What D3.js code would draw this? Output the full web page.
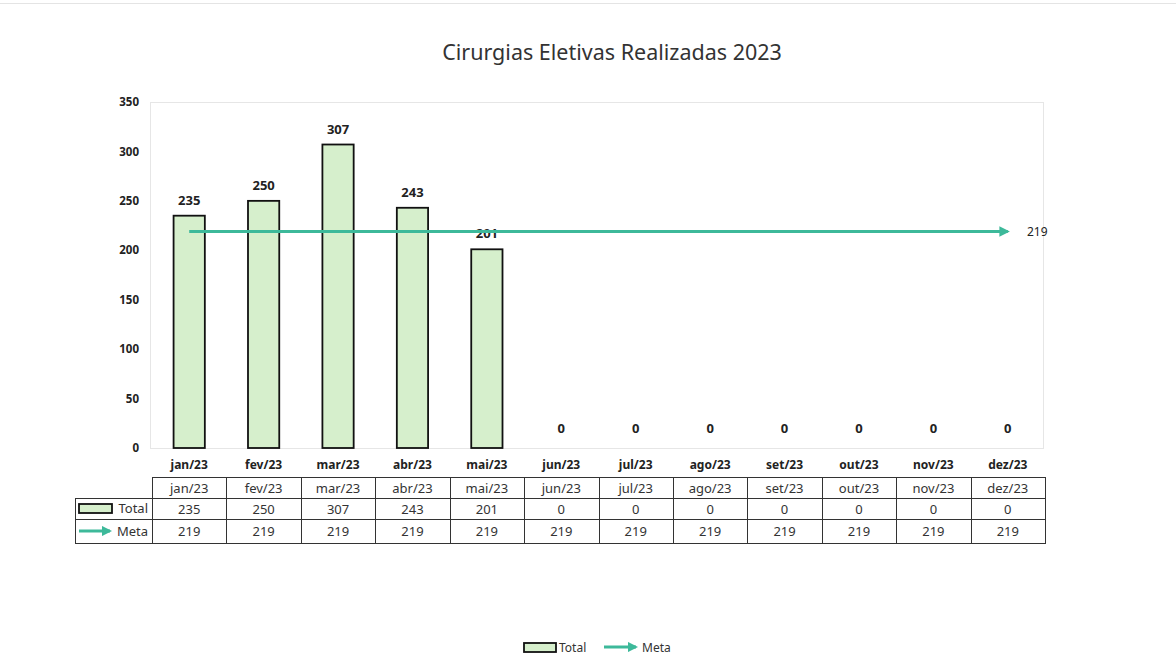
<!DOCTYPE html>
<html>
  <head>
    <title>Cirurgias Eletivas</title>
    <script src="https://d3js.org/d3.v7.min.js"></script>
    <style>
      body { margin: 0; background: white; }
      text { font-family: "Noto Sans", sans-serif; fill: #222; }
      .bold { font-weight: bold; }
    </style>
  </head>
  <body>
    <script>
      let width = 1176, height = 669;

      let months = ["jan/23", "fev/23", "mar/23", "abr/23", "mai/23", "jun/23",
                    "jul/23", "ago/23", "set/23", "out/23", "nov/23", "dez/23"];
      let totals = [235, 250, 307, 243, 201, 0, 0, 0, 0, 0, 0, 0];
      let meta = [219, 219, 219, 219, 219, 219, 219, 219, 219, 219, 219, 219];
      let yTicks = [0, 50, 100, 150, 200, 250, 300, 350];

      let barFill = "#d6efcc", metaColor = "#3db99a";

      let svg = d3.select("body").append("svg")
                  .attr("width", width)
                  .attr("height", height)

      // faint frame line at the top
      svg.append("line").attr("x1", 0).attr("x2", width).attr("y1", 3.5).attr("y2", 3.5)
         .attr("stroke", "#e4e4e4")

      let x = d3.scaleBand().domain(months).range([152, 1045]).paddingInner(0.58).paddingOuter(0.29)
      let y = d3.scaleLinear().domain([0, 350]).range([448, 102])

      // plot area border
      svg.append("rect").attr("x", 150.5).attr("y", y(350) + 0.5)
         .attr("width", 1043 - 150).attr("height", y(0) - y(350))
         .attr("fill", "none").attr("stroke", "#e6e6e6")

      svg.append("text").attr("x", 612).attr("y", 60)
         .attr("text-anchor", "middle").style("font-size", "21.5px").style("fill", "#333")
         .text("Cirurgias Eletivas Realizadas 2023")

      let yAxis = svg.append("g").attr("transform", "translate(139,0)")
                     .call(d3.axisLeft(y).tickValues(yTicks).tickSize(0).tickPadding(0))
      yAxis.select(".domain").remove()
      yAxis.selectAll("text").attr("class", "bold").style("font-size", "11.5px")
           .style("font-family", "'Noto Sans', sans-serif").attr("fill", "#222")

      let data = months.map((m, i) => ({ month: m, total: totals[i], meta: meta[i] }))

      svg.selectAll("rect.bar").data(data.filter(d => d.total > 0)).enter()
         .append("rect").attr("class", "bar")
         .attr("x", d => x(d.month)).attr("y", d => y(d.total))
         .attr("width", x.bandwidth()).attr("height", d => y(0) - y(d.total))
         .attr("fill", barFill).attr("stroke", "#111").attr("stroke-width", 1.8)

      svg.selectAll("text.val").data(data).enter()
         .append("text").attr("class", "val bold")
         .attr("x", d => x(d.month) + x.bandwidth() / 2)
         .attr("y", d => d.total > 0 ? y(d.total) - 11 : y(0) - 15)
         .attr("text-anchor", "middle").style("font-size", "13px")
         .text(d => d.total)

      // meta line with arrow
      let defs = svg.append("defs")
      defs.append("marker").attr("id", "arrow").attr("viewBox", "0 0 10 10")
          .attr("refX", 8).attr("refY", 5).attr("markerWidth", 3.5).attr("markerHeight", 3.5)
          .attr("orient", "auto")
          .append("path").attr("d", "M0,0 L10,5 L0,10 Z").attr("fill", metaColor)

      let line = d3.line().x(d => x(d.month) + x.bandwidth() / 2).y(d => y(d.meta))
      svg.append("path").datum(data).attr("d", line)
         .attr("fill", "none").attr("stroke", metaColor).attr("stroke-width", 3)
         .attr("marker-end", "url(#arrow)")

      svg.append("text").attr("x", 1027).attr("y", y(meta[11]) + 4)
         .style("font-size", "12px").text(meta[11])

      // x labels
      svg.selectAll("text.xl").data(months).enter()
         .append("text").attr("class", "xl bold")
         .attr("x", d => x(d) + x.bandwidth() / 2).attr("y", 469)
         .attr("text-anchor", "middle").style("font-size", "12px")
         .text(d => d)

      // data table
      let left = 152, right = 1045, step = x.step()
      let rowY = [477, 498, 519, 543]
      let tbl = svg.append("g").attr("stroke", "#333").attr("stroke-width", 1)
      tbl.append("line").attr("x1", left).attr("x2", right).attr("y1", rowY[0] + 0.5).attr("y2", rowY[0] + 0.5)
      tbl.append("line").attr("x1", 75).attr("x2", right).attr("y1", rowY[1] + 0.5).attr("y2", rowY[1] + 0.5)
      tbl.append("line").attr("x1", 75).attr("x2", right).attr("y1", rowY[2] + 0.5).attr("y2", rowY[2] + 0.5)
      tbl.append("line").attr("x1", 75).attr("x2", right).attr("y1", rowY[3] + 0.5).attr("y2", rowY[3] + 0.5)
      tbl.append("line").attr("x1", 75.5).attr("x2", 75.5).attr("y1", rowY[1]).attr("y2", rowY[3] + 1)
      d3.range(13).forEach(i => {
        let xx = Math.round(left + i * step) + 0.5
        tbl.append("line").attr("x1", xx).attr("x2", xx).attr("y1", rowY[0]).attr("y2", rowY[3] + 1)
      })

      let rows = [months, totals, meta]
      rows.forEach((r, ri) => {
        svg.selectAll(null).data(r).enter().append("text")
           .attr("x", (d, i) => x(months[i]) + x.bandwidth() / 2)
           .attr("y", (rowY[ri] + rowY[ri + 1]) / 2 + 5)
           .attr("text-anchor", "middle").style("font-size", "13px").style("fill", "#333")
           .text(d => d)
      })

      // table legend keys
      svg.append("rect").attr("x", 79).attr("y", 504).attr("width", 33).attr("height", 9)
         .attr("fill", barFill).attr("stroke", "#111").attr("stroke-width", 1.8)
      svg.append("text").attr("x", 148).attr("y", 513).attr("text-anchor", "end")
         .style("font-size", "13px").style("fill", "#333").text("Total")
      svg.append("line").attr("x1", 79).attr("x2", 110).attr("y1", 531).attr("y2", 531)
         .attr("stroke", metaColor).attr("stroke-width", 3).attr("marker-end", "url(#arrow)")
      svg.append("text").attr("x", 148).attr("y", 536).attr("text-anchor", "end")
         .style("font-size", "13px").style("fill", "#333").text("Meta")

      // bottom legend
      let lg = svg.append("g")
      lg.append("rect").attr("x", 524).attr("y", 643).attr("width", 32).attr("height", 9)
        .attr("fill", barFill).attr("stroke", "#111").attr("stroke-width", 1.8)
      lg.append("text").attr("x", 559).attr("y", 652).style("font-size", "12px").style("fill", "#333").text("Total")
      lg.append("line").attr("x1", 604).attr("x2", 636).attr("y1", 647).attr("y2", 647)
        .attr("stroke", metaColor).attr("stroke-width", 3).attr("marker-end", "url(#arrow)")
      lg.append("text").attr("x", 642).attr("y", 652).style("font-size", "12px").style("fill", "#333").text("Meta")
    </script>
  </body>
</html>
